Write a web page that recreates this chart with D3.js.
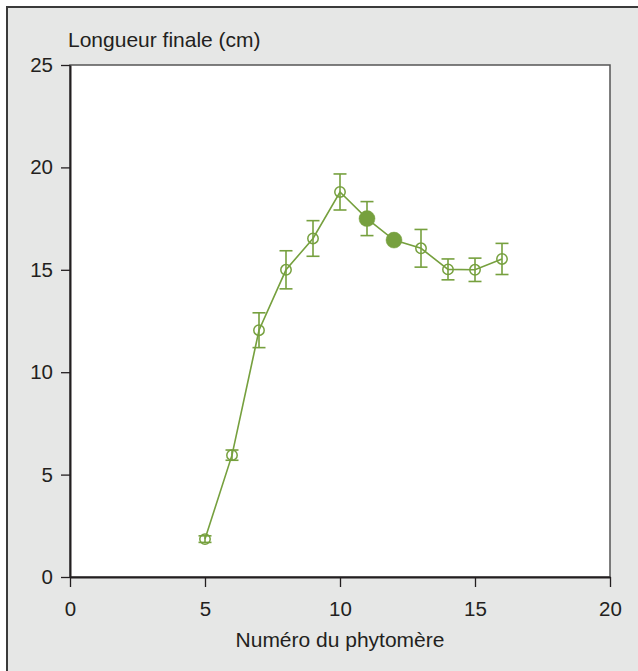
<!DOCTYPE html>
<html>
<head>
<meta charset="utf-8">
<script src="https://cdn.jsdelivr.net/npm/d3@7"></script>
<style>
html,body{margin:0;padding:0;background:#fff;}
svg{display:block;}
text{font-family:"Liberation Sans",Arial,Helvetica,sans-serif;fill:#231f20;}
</style>
</head>
<body>
<svg id="chart" width="638" height="671"></svg>
<script>
// Data
const phytomere = [5, 6, 7, 8, 9, 10, 11, 12, 13, 14, 15, 16];
const longueur  = [1.85, 5.95, 12.05, 15.0, 16.53, 18.8, 17.5, 16.45, 16.05, 15.02, 15.0, 15.53];
const erreur    = [0.16, 0.25, 0.85, 0.93, 0.87, 0.88, 0.83, 0.0, 0.92, 0.51, 0.57, 0.76];
const rempli    = [false, false, false, false, false, false, true, true, false, false, false, false];
const xTicks = [0, 5, 10, 15, 20];
const yTicks = [0, 5, 10, 15, 20, 25];
const yTitle = "Longueur finale (cm)";
const xTitle = "Numéro du phytomère";

const color = "#76a03e";
const FS = 20.5;
const TFS = 21;
const svg = d3.select("#chart");

// outer panel
svg.append("rect").attr("x", 7).attr("y", 7).attr("width", 640).attr("height", 680)
  .attr("fill", "#e6e7e6").attr("stroke", "#3a3a3a").attr("stroke-width", 2);

const L = 70, R = 610, T = 65, B = 577;
const x = d3.scaleLinear().domain([0, 20]).range([L, R]);
const y = d3.scaleLinear().domain([0, 25]).range([B, T]);

// plot area
svg.append("rect").attr("x", L).attr("y", T).attr("width", R - L).attr("height", B - T)
  .attr("fill", "#fff").attr("stroke", "#555").attr("stroke-width", 1.5);

// axes
const gx = svg.append("g").attr("transform", `translate(0,${B})`)
  .call(d3.axisBottom(x).tickValues(xTicks).tickSize(10).tickPadding(14).tickSizeOuter(0));
const gy = svg.append("g").attr("transform", `translate(${L},0)`)
  .call(d3.axisLeft(y).tickValues(yTicks).tickSize(9).tickPadding(8).tickSizeOuter(0));
[gx, gy].forEach(g => {
  g.select(".domain").attr("stroke", "#231f20").attr("stroke-width", 2);
  g.selectAll(".tick line").attr("stroke", "#231f20").attr("stroke-width", 1.3);
  g.selectAll(".tick text").attr("font-size", FS).attr("fill", "#231f20")
    .attr("font-family", '"Liberation Sans",Arial,sans-serif');
});

// titles
svg.append("text").attr("x", 68).attr("y", 47).attr("font-size", TFS).text(yTitle);
svg.append("text").attr("x", 340).attr("y", 647).attr("text-anchor", "middle")
  .attr("font-size", TFS).text(xTitle);

const data = phytomere.map((p, i) => ({p, v: longueur[i], e: erreur[i], f: rempli[i]}));

// line
svg.append("path").datum(data)
  .attr("d", d3.line().x(d => x(d.p)).y(d => y(d.v)))
  .attr("fill", "none").attr("stroke", color).attr("stroke-width", 1.6);

// error bars
const eb = svg.append("g").attr("stroke", color).attr("stroke-width", 1.6);
data.filter(d => d.e > 0).forEach(d => {
  const cx = x(d.p);
  eb.append("line").attr("x1", cx).attr("x2", cx).attr("y1", y(d.v + d.e)).attr("y2", y(d.v - d.e));
  [d.v + d.e, d.v - d.e].forEach(v => {
    eb.append("line").attr("x1", cx - 6.5).attr("x2", cx + 6.5).attr("y1", y(v)).attr("y2", y(v));
  });
});

// markers
svg.append("g").selectAll("circle").data(data).join("circle")
  .attr("cx", d => x(d.p)).attr("cy", d => y(d.v))
  .attr("r", d => d.f ? 8 : 5.2)
  .attr("fill", d => d.f ? color : "none")
  .attr("stroke", color).attr("stroke-width", d => d.f ? 0.5 : 1.5);
</script>
</body>
</html>
